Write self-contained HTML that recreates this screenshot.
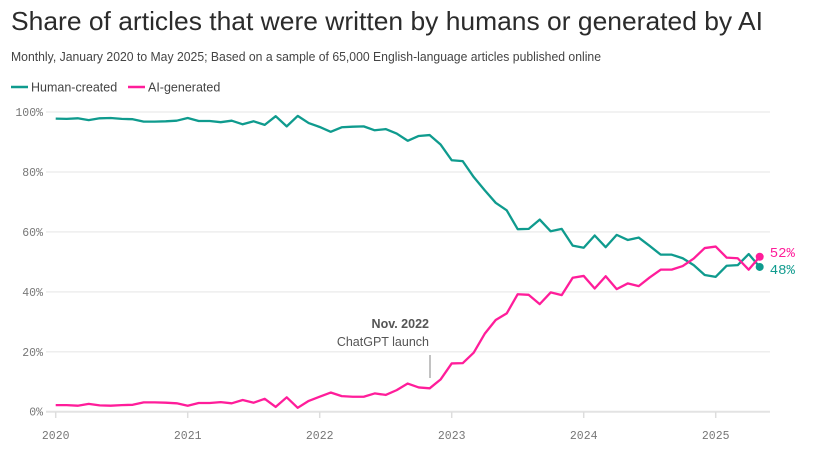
<!DOCTYPE html>
<html><head><meta charset="utf-8"><style>
body{margin:0;background:#fff;}
svg{display:block;font-family:"Liberation Sans",sans-serif;}
.mono{font-family:"Liberation Mono",monospace;}
</style></head><body>
<svg id="chart" width="817" height="456">
<text x="11" y="30" font-size="26" fill="#2b2b2b" textLength="752" lengthAdjust="spacingAndGlyphs">Share of articles that were written by humans or generated by AI</text>
<text x="11" y="61" font-size="12.5" fill="#444" textLength="590" lengthAdjust="spacingAndGlyphs">Monthly, January 2020 to May 2025; Based on a sample of 65,000 English-language articles published online</text>
<g>
<line x1="11" y1="87" x2="28" y2="87" stroke="#0f9b8e" stroke-width="2.5"/>
<text x="31" y="91.5" font-size="12.5" fill="#444">Human-created</text>
<line x1="128" y1="87" x2="145" y2="87" stroke="#ff1d9a" stroke-width="2.5"/>
<text x="148" y="91.5" font-size="12.5" fill="#444">AI-generated</text>
</g>
<g id="grid"></g><g id="xaxis"></g><g id="lines"></g>
<g>
<text x="429" y="328" font-size="12.5" font-weight="bold" fill="#555" text-anchor="end">Nov. 2022</text>
<text x="429" y="346" font-size="12.5" fill="#555" text-anchor="end">ChatGPT launch</text>
<line x1="430" y1="355" x2="430" y2="378" stroke="#999" stroke-width="1.2"/>
</g>
</svg>
<script>
const human=[97.8,97.7,97.9,97.3,97.9,98,97.7,97.6,96.8,96.8,96.9,97.1,
98,97,97,96.6,97.1,95.9,96.9,95.7,98.6,95.2,98.7,96.3,
95,93.4,94.9,95.1,95.2,93.9,94.3,92.8,90.4,92,92.3,89.1,
83.9,83.6,78.3,73.9,69.7,67.2,60.9,61,64.1,60.2,61,55.4,
54.7,58.8,54.9,59,57.3,58.1,55.3,52.4,52.4,51.2,48.9,45.6,
45,48.7,48.9,52.6,48.3];
const ai=[2.2,2.2,2,2.6,2.1,2,2.2,2.3,3.1,3.1,3,2.8,
2,2.9,2.9,3.2,2.8,3.9,3,4.3,1.6,4.8,1.3,3.6,
5,6.4,5.2,5,5,6.1,5.6,7.2,9.4,8.1,7.8,10.8,
16.1,16.2,19.7,26,30.6,32.8,39.2,39,35.9,39.8,38.9,44.7,
45.3,41.1,45.2,40.9,42.8,41.9,44.8,47.4,47.4,48.6,51.1,54.6,
55.1,51.4,51.2,47.4,51.7];
const yTicks=[0,20,40,60,80,100];
const years=[2020,2021,2022,2023,2024,2025];
const finalLabels=["48%","52%"];
const NS="http://www.w3.org/2000/svg";
const x=i=>55.7+i*11;
const y=v=>411.7-v*2.997;
function mk(t,a,p){const e=document.createElementNS(NS,t);for(const k in a)e.setAttribute(k,a[k]);p.appendChild(e);return e;}
const g=document.getElementById('grid'),xa=document.getElementById('xaxis'),L=document.getElementById('lines');
yTicks.forEach(t=>{
 const l=mk('line',{x1:46,x2:770,y1:y(t),y2:y(t),stroke:t===0?'#e3e3e3':'#eeeeee','stroke-width':t===0?2:1.5},g);
 
 
 const tx=mk('text',{x:43,y:y(t)+4,'font-size':11.5,fill:'#777','text-anchor':'end',class:'mono'},g);
 tx.textContent=t+'%';
 
 
});
years.forEach((yr,k)=>{
 const xx=x(k*12);
 const l=mk('line',{x1:xx,x2:xx,y1:412,y2:418,stroke:'#ddd','stroke-width':1.5},xa);
 
 
 const tx=mk('text',{x:xx,y:439,'font-size':11.5,fill:'#777','text-anchor':'middle',class:'mono'},xa);
 tx.textContent=yr;
 
 
});
function series(arr,col,name,lab,dy){
 const p=mk('polyline',{points:arr.map((v,i)=>x(i)+','+y(v)).join(' '),fill:'none',stroke:col,'stroke-width':2.3,'stroke-linejoin':'round'},L);
 
 
 const n=arr.length-1;
 const c=mk('circle',{cx:x(n),cy:y(arr[n]),r:4,fill:col},L);
 
 
 const t=mk('text',{x:x(n)+10,y:y(arr[n])+dy,'font-size':14,fill:col,class:'mono'},L);
 t.textContent=lab;
 
 
}
series(human,'#0f9b8e','human',finalLabels[0],7);
series(ai,'#ff1d9a','ai',finalLabels[1],0);
</script>
</body></html>
